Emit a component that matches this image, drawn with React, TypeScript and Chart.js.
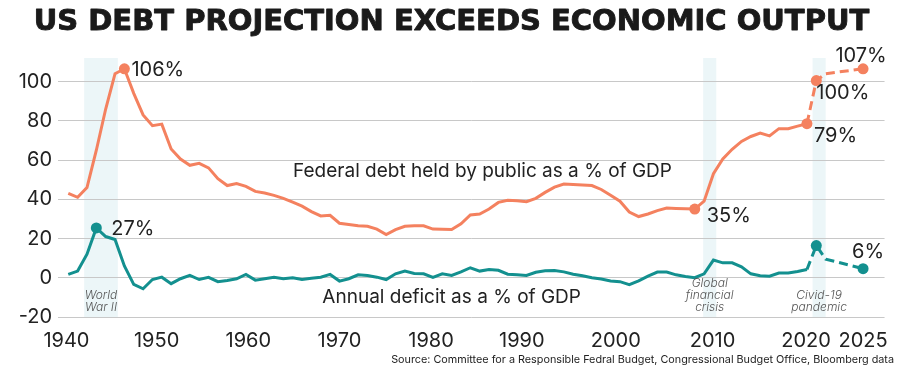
import React, { useEffect, useRef } from 'react';
import { Chart, registerables } from 'chart.js';
Chart.register(...registerables);

const YEARS = [
  1940, 1941, 1942, 1943, 1944, 1945, 1946, 1947, 1948, 1949,
  1950, 1951, 1952, 1953, 1954, 1955, 1956, 1957, 1958, 1959,
  1960, 1961, 1962, 1963, 1964, 1965, 1966, 1967, 1968, 1969,
  1970, 1971, 1972, 1973, 1974, 1975, 1976, 1977, 1978, 1979,
  1980, 1981, 1982, 1983, 1984, 1985, 1986, 1987, 1988, 1989,
  1990, 1991, 1992, 1993, 1994, 1995, 1996, 1997, 1998, 1999,
  2000, 2001, 2002, 2003, 2004, 2005, 2006, 2007, 2008, 2009,
  2010, 2011, 2012, 2013, 2014, 2015, 2016, 2017, 2018, 2019,
  2020, 2021, 2025,
];

const DEBT = [
  43, 41, 46, 65, 86, 104, 106.5, 94, 83, 77.5,
  78.3, 65.6, 60.5, 57.3, 58.3, 56, 50.5, 47, 48, 46.6,
  44, 43.2, 42, 40.5, 38.5, 36.5, 33.7, 31.5, 31.8, 27.8,
  27.2, 26.5, 26.2, 24.8, 22, 24.5, 26.2, 26.5, 26.5, 24.8,
  24.7, 24.6, 27.5, 32, 32.5, 35, 38.4, 39.5, 39.2, 38.8,
  40.5, 43.5, 46.2, 47.8, 47.5, 47.3, 47, 45, 42, 39,
  33.5, 31.2, 32.5, 34.2, 35.5, 35.3, 35.2, 35, 39, 53,
  60.5, 65.5, 69.5, 72, 73.7, 72.3, 76, 76, 77.3, 78.5,
  100.5, 104, 106.5,
];

const DEFICIT = [
  1.7, 3.4, 12, 25.4, 21, 19.5, 6, -3.4, -5.6, -0.9,
  0.3, -3, -0.5, 1.2, -0.9, 0.2, -2, -1.4, -0.5, 1.7,
  -1.2, -0.5, 0.2, -0.5, 0, -0.9, -0.3, 0.3, 1.7, -1.7,
  -0.5, 1.5, 1.2, 0.3, -0.9, 2, 3.4, 2.2, 2, 0.2,
  2, 1.2, 3, 5.1, 3.4, 4.2, 3.8, 1.8, 1.5, 1.2,
  2.8, 3.6, 3.7, 3, 1.8, 1, 0, -0.6, -1.6, -2,
  -3.5, -1.6, 0.8, 2.9, 2.9, 1.5, 0.6, 0, 2, 9,
  7.6, 7.6, 5.6, 2, 1, 0.8, 2.4, 2.4, 3.2, 4.2,
  16.4, 9.5, 4.6,
];

const PROJECTION_START = 2019;
const DEBT_MARKED = [1946, 2007, 2019, 2020, 2025];
const DEFICIT_MARKED = [1943, 2020, 2025];

const Y_TICKS = [-20, 0, 20, 40, 60, 80, 100];
const X_TICK_LABELS = ['1940', '1950', '1960', '1970', '1980', '1990', '2000', '2010', '2020', '2025'];
const X_TICK_AT = [1939.8, 1949.45, 1959.25, 1969, 1978.8, 1988.5, 1998.55, 2008.9, 2018.9, 2025];

const SHADE_FROM = [1941.7, 2007.9, 2019.6];
const SHADE_TO = [1945.3, 2009.3, 2021.0];
const SHADE_TEXT = [['World', 'War II'], ['Global', 'financial', 'crisis'], ['Civid-19', 'pandemic']];

const DEBT_LABEL_YEARS = [1946, 2007, 2019, 2020, 2025];
const DEBT_LABEL_TEXT = ['106%', '35%', '79%', '100%', '107%'];
const DEFICIT_LABEL_YEARS = [1943, 2025];
const DEFICIT_LABEL_TEXT = ['27%', '6%'];

const TITLE = 'US DEBT PROJECTION EXCEEDS ECONOMIC OUTPUT';
const DEBT_NAME = 'Federal debt held by public as a % of GDP';
const DEFICIT_NAME = 'Annual deficit as a % of GDP';
const SOURCE = 'Source: Committee for a Responsible Fedral Budget, Congressional Budget Office, Bloomberg data';

const ORANGE = '#f4815f';
const TEAL = '#13908f';
const SHADE = '#ecf6f8';
const INK = '#222222';
const FONT = 'Inter';

// label placement: [dx, dy, align]
const DEBT_LABEL_OFFSET: [number, number, CanvasTextAlign][] = [
  [7, 1, 'left'], [12, 7, 'left'], [7, 12, 'left'], [0, 12, 'left'], [-2, -13, 'center'],
];
const DEFICIT_LABEL_OFFSET: [number, number, CanvasTextAlign][] = [
  [15, 1, 'left'], [5, -17, 'center'],
];

const overlay = {
  id: 'overlay',
  beforeDraw(chart: any) {
    const { ctx, chartArea, scales } = chart;
    const x = scales.x;
    ctx.save();
    ctx.fillStyle = SHADE;
    SHADE_FROM.forEach((s, i) => {
      const x0 = x.getPixelForValue(s);
      const x1 = x.getPixelForValue(SHADE_TO[i]);
      ctx.fillRect(x0, chartArea.top, x1 - x0, chartArea.bottom - chartArea.top);
    });
    ctx.restore();
  },
  afterDraw(chart: any) {
    const { ctx, chartArea, scales } = chart;
    const x = scales.x;
    const y = scales.y;
    ctx.save();
    // title
    ctx.fillStyle = '#1a1a1a';
    ctx.strokeStyle = '#1a1a1a';
    ctx.lineWidth = 0.9;
    ctx.lineJoin = 'round';
    ctx.font = `bold 29px "DejaVu Sans"`;
    ctx.textAlign = 'center';
    ctx.textBaseline = 'middle';
    ctx.fillText(TITLE, 451.5, 22.5);
    ctx.strokeText(TITLE, 451.5, 22.5);
    // event names
    ctx.fillStyle = '#555555';
    ctx.font = `italic 300 12px ${FONT}`;
    SHADE_TEXT.forEach((lines, i) => {
      const cx = (x.getPixelForValue(SHADE_FROM[i]) + x.getPixelForValue(SHADE_TO[i])) / 2;
      const n = lines.length;
      lines.forEach((t, j) => {
        ctx.fillText(t, cx, chartArea.bottom - 10 - (n - 1 - j) * 12);
      });
    });
    // value labels
    ctx.fillStyle = INK;
    ctx.font = `400 20px ${FONT}`;
    DEBT_LABEL_YEARS.forEach((yr, i) => {
      const idx = YEARS.indexOf(yr);
      const [dx, dy, al] = DEBT_LABEL_OFFSET[i];
      ctx.textAlign = al;
      ctx.fillText(DEBT_LABEL_TEXT[i], x.getPixelForValue(yr) + dx, y.getPixelForValue(DEBT[idx]) + dy);
    });
    DEFICIT_LABEL_YEARS.forEach((yr, i) => {
      const idx = YEARS.indexOf(yr);
      const [dx, dy, al] = DEFICIT_LABEL_OFFSET[i];
      ctx.textAlign = al;
      ctx.fillText(DEFICIT_LABEL_TEXT[i], x.getPixelForValue(yr) + dx, y.getPixelForValue(DEFICIT[idx]) + dy);
    });
    // series names
    ctx.font = `400 19px ${FONT}`;
    ctx.textAlign = 'center';
    ctx.fillText(DEBT_NAME, x.getPixelForValue(1984.3), y.getPixelForValue(54.2));
    ctx.fillText(DEFICIT_NAME, x.getPixelForValue(1981), y.getPixelForValue(-10.2));
    // source
    ctx.font = `400 10.8px ${FONT}`;
    ctx.textAlign = 'right';
    ctx.fillText(SOURCE, chart.width - 6, chart.height - 13);
    ctx.restore();
  },
};

export default function App() {
  const ref = useRef<HTMLCanvasElement>(null);
  useEffect(() => {
    document.body.style.margin = '0';
    const debtPts = YEARS.map((yr, i) => ({ x: yr, y: DEBT[i] }));
    const defPts = YEARS.map((yr, i) => ({ x: yr, y: DEFICIT[i] }));
    const dash = (c: any) => (c.p0.parsed.x >= PROJECTION_START ? [9, 5] : undefined);
    const chart = new Chart(ref.current!, {
      type: 'line',
      data: {
        datasets: [
          {
            data: debtPts,
            borderColor: ORANGE,
            backgroundColor: ORANGE,
            borderWidth: 3,
            tension: 0,
            pointRadius: (c: any) => (DEBT_MARKED.includes(c.raw?.x) ? 5.5 : 0),
            pointBackgroundColor: ORANGE,
            pointBorderWidth: 0,
            segment: { borderDash: dash },
          },
          {
            data: defPts,
            borderColor: TEAL,
            backgroundColor: TEAL,
            borderWidth: 3,
            tension: 0,
            pointRadius: (c: any) => (DEFICIT_MARKED.includes(c.raw?.x) ? 5.5 : 0),
            pointBackgroundColor: TEAL,
            pointBorderWidth: 0,
            segment: { borderDash: dash },
          },
        ],
      },
      options: {
        animation: false,
        responsive: true,
        maintainAspectRatio: false,
        layout: { padding: { left: 0, right: 14, top: 58, bottom: 20 } },
        plugins: {
          legend: { display: false },
          tooltip: { enabled: false },
          title: { display: false },
        },
        scales: {
          x: {
            type: 'linear',
            min: 1938.9,
            max: 2027.3,
            grid: { display: false, drawTicks: false, tickLength: 0 },
            border: { display: false },
            afterBuildTicks: (s: any) => {
              s.ticks = X_TICK_AT.map((v) => ({ value: v }));
            },
            afterFit: (s: any) => {
              s.height = 36;
            },
            ticks: {
              autoSkip: false,
              maxRotation: 0,
              padding: 12,
              color: INK,
              font: { family: FONT, size: 20 },
              callback: (_v: any, i: number) => X_TICK_LABELS[i],
            },
          },
          y: {
            min: -20,
            max: 112,
            afterBuildTicks: (s: any) => {
              s.ticks = Y_TICKS.map((v) => ({ value: v }));
            },
            afterFit: (s: any) => {
              s.width = 58;
            },
            grid: { color: '#c8c8c8', lineWidth: 1, drawTicks: false },
            border: { display: false },
            ticks: {
              padding: 6,
              color: INK,
              font: { family: FONT, size: 20 },
            },
          },
        },
      },
      plugins: [overlay],
    } as any);
    return () => chart.destroy();
  }, []);
  return (
    <div style={{ width: 900, height: 373, position: 'relative' }}>
      <canvas ref={ref} />
    </div>
  );
}
